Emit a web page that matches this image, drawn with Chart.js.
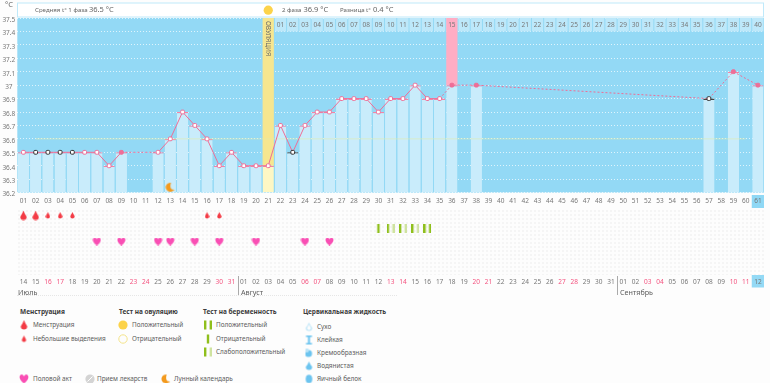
<!DOCTYPE html>
<html lang="ru">
<head>
<meta charset="utf-8">
<title>График БТТ</title>
<script src="https://cdn.jsdelivr.net/npm/chart.js@4"></script>
<style>
  html, body { margin: 0; background: #fdfdfd; }
  body { position: relative; width: 770px; height: 383px; overflow: hidden; font-family: "Noto Sans", sans-serif; color: #5c5c5c; filter: blur(0.35px); }
  canvas { position: absolute; left: 0; }
  #tempChart { top: 0; }
  #eventChart { top: 209px; }
  .dots { position: absolute; left: 17px; top: 209px; width: 747px; height: 66px;
    background-image: radial-gradient(circle, #f5f5f5 1px, transparent 1.2px); background-size: 4px 4px; }
  .foot { position: absolute; left: 17px; top: 295px; width: 380px; border-top: 1px dotted #e6e6e6; }
  .t { position: absolute; font-size: 6.4px; line-height: 10px; white-space: nowrap; transform: translateY(-50%); }
  .h { font-size: 6.5px; font-weight: 700; color: #3c3c3c; }
  .m { font-size: 7.2px; }
  .sep { position: absolute; width: 1px; top: 276px; height: 19px; background: #aaa; }
  .ic { position: absolute; transform: translate(-50%, -50%); line-height: 0; }
  .ic canvas { position: static; }
</style>
</head>
<body>
<div class="dots"></div>
<div class="foot"></div>
<canvas id="tempChart" width="770" height="209"></canvas>
<canvas id="eventChart" width="770" height="90"></canvas>

<div class="sep" style="left:238px"></div>
<div class="sep" style="left:617px"></div>
<div class="t m" style="left:18px;top:291.5px">Июль</div>
<div class="t m" style="left:241px;top:291.5px">Август</div>
<div class="t m" style="left:620px;top:291.5px">Сентябрь</div>

<div class="t h" style="left:20px;top:312px">Менструация</div>
<div class="t" style="left:33px;top:325px">Менструация</div>
<div class="t" style="left:33px;top:338.5px">Небольшие выделения</div>
<div class="t h" style="left:119px;top:312px">Тест на овуляцию</div>
<div class="t" style="left:132px;top:325px">Положительный</div>
<div class="t" style="left:132px;top:338.5px">Отрицательный</div>
<div class="t h" style="left:203px;top:312px">Тест на беременность</div>
<div class="t" style="left:216px;top:325px">Положительный</div>
<div class="t" style="left:216px;top:338.5px">Отрицательный</div>
<div class="t" style="left:216px;top:351.5px">Слабоположительный</div>
<div class="t h" style="left:303px;top:312px">Цервикальная жидкость</div>
<div class="t" style="left:317px;top:326.5px">Сухо</div>
<div class="t" style="left:317px;top:340px">Клейкая</div>
<div class="t" style="left:317px;top:353px">Кремообразная</div>
<div class="t" style="left:317px;top:366px">Водянистая</div>
<div class="t" style="left:317px;top:378.5px">Яичный белок</div>
<div class="t" style="left:33px;top:378.5px">Половой акт</div>
<div class="t" style="left:97px;top:378.5px">Прием лекарств</div>
<div class="t" style="left:174px;top:378.5px">Лунный календарь</div>

<script>
// cycle days, phase 2 days and calendar dates under the chart
const cycleDays = ['01','02','03','04','05','06','07','08','09','10','11','12','13','14','15','16','17','18','19','20','21','22','23','24','25','26','27','28','29','30','31','32','33','34','35','36','37','38','39','40','41','42','43','44','45','46','47','48','49','50','51','52','53','54','55','56','57','58','59','60','61'];
const phase2Days = ['01','02','03','04','05','06','07','08','09','10','11','12','13','14','15','16','17','18','19','20','21','22','23','24','25','26','27','28','29','30','31','32','33','34','35','36','37','38','39','40'];
const dates = ['14','15','16','17','18','19','20','21','22','23','24','25','26','27','28','29','30','31','01','02','03','04','05','06','07','08','09','10','11','12','13','14','15','16','17','18','19','20','21','22','23','24','25','26','27','28','29','30','31','01','02','03','04','05','06','07','08','09','10','11','12'];
const weekendDays = ['03','04','10','11','17','18','24','25','31','32','38','39','45','46','52','53','59','60'];

// temperature, one value per cycle day
const temps = [36.5,36.5,36.5,36.5,36.5,36.5,36.5,36.4,36.5,null,null,36.5,36.6,36.8,36.7,36.6,36.4,36.5,36.4,36.4,36.4,36.7,36.5,36.7,36.8,36.8,36.9,36.9,36.9,36.8,36.9,36.9,37.0,36.9,36.9,37.0,null,37.0,null,null,null,null,null,null,null,null,null,null,null,null,null,null,null,null,null,null,36.9,null,37.1,null,37.0];
const yTicksBottom = 36.2;
const yTicksTop = 37.5;
const coverLine = [{ x: '02', y: 36.6 }, { x: '60', y: 36.6 }];
const ovulationDay = '21';
const ovulationBand = [36.4, 37.5];
const peakDay = '36';
const peakBand = [37.0, 37.5];
const phase2Strip = [37.4, 37.5];
const moonDays = [{ x: '13', y: 36.24 }];
const blackPointDays = ['02','03','04','05','23','57'];
const filledPointDays = ['09','36','38','59','61'];
const dashedEndDays = ['36'];

// event rows
const rows = ['bleed', 'test', 'sex', 'fluid', 'other'];
const heavyDays = ['01','02'];
const spottingDays = ['03','04','05','16','17'];
const testNegativeDays = ['30'];
const testWeakDays = ['31','32','33'];
const testPositiveDays = ['34'];
const sexDays = ['07','09','12','13','15','17','20','24','26'];

function icon(w, h, draw) {
  const c = document.createElement('canvas');
  c.width = w; c.height = h;
  draw(c.getContext('2d'), w, h);
  return c;
}
const drop = color => (g, w, h) => {
  const r = w / 2 - 0.3;
  g.fillStyle = color;
  g.beginPath();
  g.moveTo(w / 2, 0);
  g.quadraticCurveTo(w / 2 + 1, h * 0.3, w / 2 + r, h - r - 0.5);
  g.arc(w / 2, h - r - 0.5, r, 0, Math.PI);
  g.quadraticCurveTo(w / 2 - 1, h * 0.3, w / 2, 0);
  g.fill();
};
const heart = (g, w, h) => {
  g.fillStyle = '#f94fb4';
  g.beginPath();
  g.moveTo(w / 2, h);
  g.bezierCurveTo(-1, h * 0.55, 0, 0, w * 0.28, 0);
  g.quadraticCurveTo(w * 0.42, 0, w / 2, h * 0.2);
  g.quadraticCurveTo(w * 0.58, 0, w * 0.72, 0);
  g.bezierCurveTo(w, 0, w + 1, h * 0.55, w / 2, h);
  g.fill();
};
const moon = (g, w, h) => {
  g.fillStyle = '#f39a1e';
  g.beginPath();
  g.arc(w / 2, h / 2, w / 2 - 0.5, 0.35 * Math.PI, 1.55 * Math.PI);
  g.quadraticCurveTo(w * 0.35, h * 0.75, w - 0.5, h * 0.72);
  g.fill();
};
const testBars = (left, right) => (g, w, h) => {
  if (right) {
    g.fillStyle = left; g.fillRect(0, 0, 2.4, h);
    g.fillStyle = right; g.fillRect(w - 2.4, 0, 2.4, h);
  } else {
    g.fillStyle = left; g.fillRect(w / 2 - 1.2, 0, 2.4, h);
  }
};
const GREEN = '#8fbf1c', PALE = '#cfe3a0';

function place(x, y, node) {
  const d = document.createElement('div');
  d.className = 'ic';
  d.style.left = x + 'px'; d.style.top = y + 'px';
  d.appendChild(node);
  document.body.appendChild(d);
}
place(24, 325, icon(7, 10, drop('#f33b45')));
place(24, 339, icon(5, 7, drop('#f33b45')));
place(24, 378.5, icon(10, 9, heart));
place(207.5, 325, icon(8, 9, testBars(GREEN, GREEN)));
place(207.5, 338.5, icon(8, 9, testBars(GREEN)));
place(207.5, 351.5, icon(8, 9, testBars(GREEN, PALE)));
place(166, 378.5, icon(10, 11, moon));
place(123, 325, icon(10, 10, (g) => { g.fillStyle = '#fcd34a'; g.beginPath(); g.arc(5, 5, 4.6, 0, 7); g.fill(); }));
place(123, 338.5, icon(10, 10, (g) => { g.strokeStyle = '#f3e38a'; g.beginPath(); g.arc(5, 5, 4.2, 0, 7); g.stroke(); }));
place(89.5, 378.5, icon(10, 10, (g) => { g.fillStyle = '#d4d4d4'; g.beginPath(); g.arc(5, 5, 4.6, 0, 7); g.fill(); g.strokeStyle = '#fff'; g.beginPath(); g.moveTo(2.5, 7.5); g.lineTo(7.5, 2.5); g.stroke(); }));
place(309, 326.5, icon(7, 9, (g) => { drop('#b9e4f8')(g, 7, 9); g.globalCompositeOperation = 'destination-out'; g.translate(1.2, 2); drop('#000')(g, 4.6, 6); }));
place(309, 340, icon(7, 9, (g) => { g.fillStyle = '#6cc4ef'; g.fillRect(0.5, 0, 6, 1.5); g.fillRect(0.5, 7.5, 6, 1.5); g.fillRect(2.5, 1, 2, 7); }));
place(309, 353, icon(7, 9, (g) => { g.fillStyle = '#6cc4ef'; g.beginPath(); g.arc(3, 5, 3.6, 0, 7); g.fill(); g.fillStyle = '#b9e4f8'; g.beginPath(); g.arc(1.5, 2, 2, 0, 7); g.fill(); }));
place(309, 366, icon(7, 9, drop('#6cc4ef')));
place(309, 378.5, icon(7, 9, (g) => { g.fillStyle = '#6cc4ef'; g.beginPath(); g.ellipse(3.5, 4.5, 3.3, 4.3, 0, 0, 7); g.fill(); }));

const dayIndex = ctx => cycleDays[ctx.dataIndex];
const pointEdge = ctx => blackPointDays.includes(dayIndex(ctx)) ? '#333' : '#ee6e97';
const pointFace = ctx => filledPointDays.includes(dayIndex(ctx)) ? '#ee6e97' : '#fff';

// background, header box and the texts that sit on top of the bars
const tempDecor = {
  id: 'tempDecor',
  beforeDraw(chart) {
    const { ctx, chartArea: a, scales: { x } } = chart;
    const w = x.getPixelForValue(1) - x.getPixelForValue(0);
    ctx.save();
    ctx.fillStyle = '#93d9f5';
    ctx.fillRect(a.left, a.top, a.right - a.left, a.bottom - a.top);
    ctx.fillStyle = '#fff';
    ctx.strokeStyle = '#bfe9fa';
    ctx.fillRect(17.5, 3, 746, 14);
    ctx.strokeRect(17.5, 3, 746, 14);
    ctx.fillStyle = '#8fd8f5';
    ctx.fillRect(x.getPixelForValue(60) - w / 2, 195, w, 13);
    ctx.restore();
  },
  afterDatasetsDraw(chart) {
    const { ctx, scales: { x } } = chart;
    ctx.save();
    ctx.textAlign = 'center';
    ctx.textBaseline = 'middle';
    ctx.font = '6.5px "Noto Sans"';
    ctx.fillStyle = '#777';
    phase2Days.forEach((d, i) => ctx.fillText(d, x.getPixelForValue(21 + i), 25.5));
    const ox = x.getPixelForValue(cycleDays.indexOf(ovulationDay));
    ctx.fillStyle = '#fcd34a';
    ctx.beginPath();
    ctx.arc(ox, 10.2, 4.6, 0, Math.PI * 2);
    ctx.fill();
    ctx.translate(ox, 38.5);
    ctx.rotate(Math.PI / 2);
    ctx.fillStyle = '#666';
    ctx.fillText('ОВУЛЯЦИЯ', 0, 0);
    ctx.restore();
    ctx.save();
    ctx.font = '6.1px "Noto Sans"';
    ctx.fillStyle = '#666';
    ctx.textBaseline = 'middle';
    ctx.fillText('Средняя t° 1 фаза', 35, 10);
    ctx.fillText('2 фаза', 282, 10);
    ctx.fillText('Разница t°', 340, 10);
    ctx.font = '7.5px "Noto Sans"';
    ctx.fillText('36.5 °C', 89, 10);
    ctx.fillText('36.9 °C', 303.5, 10);
    ctx.fillText('0.4 °C', 373, 10);
    ctx.fillText('°C', 5, 5);
    ctx.restore();
  }
};

const ticksFont = { family: '"Noto Sans"', size: 6.5 };

new Chart(document.getElementById('tempChart'), {
  type: 'bar',
  data: {
    labels: cycleDays,
    datasets: [
      { type: 'line', data: temps, order: 1, spanGaps: true, tension: 0, borderColor: '#ee6e97', borderWidth: 1,
        pointStyle: 'rectRounded', pointRadius: 2.2, pointBorderWidth: 1, pointBorderColor: pointEdge, pointBackgroundColor: pointFace,
        segment: { borderDash: ctx => (ctx.p0.skip || ctx.p1.skip || dashedEndDays.includes(cycleDays[ctx.p1DataIndex])) ? [2, 2] : undefined } },
      { type: 'line', data: moonDays, order: 2, showLine: false, pointStyle: icon(10, 11, moon), pointRadius: 5 },
      { type: 'line', data: coverLine, order: 3, borderColor: 'rgba(226,236,170,0.75)', borderWidth: 0.8, pointRadius: 0 },
      { data: temps.map(v => v === null ? null : [yTicksBottom, v]), order: 4,
        backgroundColor: ctx => dayIndex(ctx) === ovulationDay ? '#fdf7c4' : '#c9ecfb',
        borderColor: ctx => ['23', '57'].includes(dayIndex(ctx)) ? '#444' : '#f284a6',
        borderWidth: { top: 1.3 }, borderSkipped: false },
      { data: [{ x: ovulationDay, y: ovulationBand }], order: 5, backgroundColor: '#f6e68f' },
      { data: [{ x: peakDay, y: peakBand }], order: 5, backgroundColor: '#ffadc4' },
      { data: phase2Days.map((d, i) => ({ x: cycleDays[21 + i], y: phase2Strip })), order: 6, backgroundColor: '#bde8fa' }
    ]
  },
  plugins: [tempDecor],
  options: {
    responsive: false,
    animation: false,
    layout: { padding: { top: 18, right: 6 } },
    datasets: { bar: { grouped: false, barPercentage: 0.92, categoryPercentage: 1 } },
    plugins: { legend: { display: false }, tooltip: { enabled: false } },
    scales: {
      x: {
        grid: { display: false, drawTicks: false },
        border: { display: false },
        afterFit: s => { s.height = 16.4; },
        ticks: { autoSkip: false, maxRotation: 0, padding: 5, color: '#777', font: ticksFont }
      },
      y: {
        min: yTicksBottom,
        max: yTicksTop,
        afterFit: s => { s.width = 17.3; },
        border: { display: false, dash: [1, 2] },
        grid: { drawTicks: false, color: 'rgba(255,255,255,0.7)', lineWidth: 1 },
        ticks: { stepSize: 0.1, padding: 2, crossAlign: 'center', labelOffset: 2, color: '#777', font: ticksFont,
          callback: v => Number.isInteger(+v.toFixed(1)) ? String(Math.round(v)) : v.toFixed(1) }
      }
    }
  }
});

const points = (days, row) => days.map(d => ({ x: d, y: row }));
const marker = (days, row, style, r) => ({ data: points(days, row), showLine: false, pointStyle: style, pointRadius: r });

const eventDecor = {
  id: 'eventDecor',
  beforeDraw(chart) {
    const { ctx, scales: { x } } = chart;
    const w = x.getPixelForValue(1) - x.getPixelForValue(0);
    ctx.save();
    ctx.fillStyle = '#93d9f5';
    ctx.fillRect(x.getPixelForValue(60) - w / 2, 66, w, 12.5);
    ctx.restore();
  }
};

new Chart(document.getElementById('eventChart'), {
  type: 'line',
  data: {
    labels: cycleDays,
    datasets: [
      marker(heavyDays, 'bleed', icon(7, 10, drop('#f33b45')), 5),
      marker(spottingDays, 'bleed', icon(5, 7, drop('#f33b45')), 4),
      marker(testNegativeDays, 'test', icon(8, 9, testBars(GREEN)), 4),
      marker(testWeakDays, 'test', icon(8, 9, testBars(GREEN, PALE)), 4),
      marker(testPositiveDays, 'test', icon(8, 9, testBars(GREEN, GREEN)), 4),
      marker(sexDays, 'sex', icon(9, 8, heart), 4)
    ]
  },
  plugins: [eventDecor],
  options: {
    responsive: false,
    animation: false,
    layout: { autoPadding: false, padding: { right: 6 } },
    plugins: { legend: { display: false }, tooltip: { enabled: false } },
    scales: {
      x: {
        offset: true,
        grid: { display: false, drawTicks: false },
        border: { display: false },
        afterFit: s => { s.height = 25; },
        ticks: { autoSkip: false, maxRotation: 0, padding: 4, font: ticksFont,
          color: ctx => weekendDays.includes(cycleDays[ctx.index]) ? '#f4527f' : '#777',
          callback: (v, i) => dates[i] }
      },
      y: {
        type: 'category',
        labels: rows,
        offset: true,
        afterFit: s => { s.width = 17.3; },
        grid: { display: false, drawTicks: false },
        border: { display: false },
        ticks: { display: false }
      }
    }
  }
});
</script>
</body>
</html>
